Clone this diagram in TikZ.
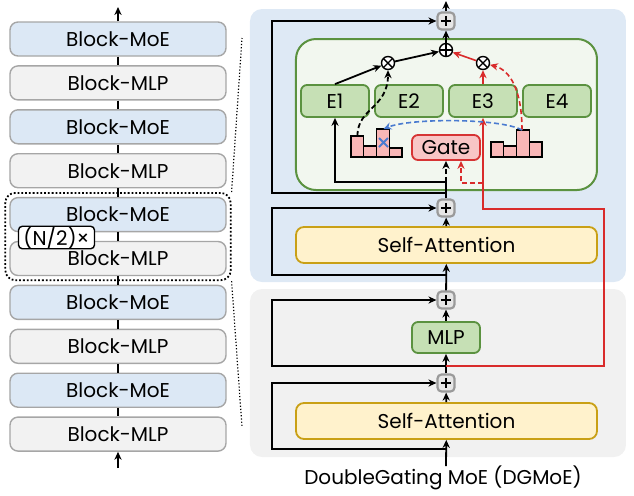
\documentclass[tikz,border=0pt]{standalone}
\usepackage{fontspec}
\setmainfont{Poppins}
\usetikzlibrary{arrows.meta,calc,fit}

\definecolor{moeblue}{HTML}{DCE8F5}
\definecolor{mlpgray}{HTML}{F2F2F2}
\definecolor{blkgray}{HTML}{A6A6A6}
\definecolor{panelblue}{HTML}{DEE9F5}
\definecolor{panelgray}{HTML}{F1F1F1}
\definecolor{boxfill}{HTML}{F2F7EF}
\definecolor{expgreen}{HTML}{5B9240}
\definecolor{expfill}{HTML}{C6E0B5}
\definecolor{gatered}{HTML}{D63434}
\definecolor{gatefill}{HTML}{F8C6C6}
\definecolor{barfill}{HTML}{F9B7B7}
\definecolor{attnfill}{HTML}{FFF2CC}
\definecolor{attnedge}{HTML}{C9A015}
\definecolor{addgray}{HTML}{9A9A9A}
\definecolor{addfill}{HTML}{E6E6E6}
\definecolor{redline}{HTML}{D92B2B}
\definecolor{blueline}{HTML}{4A7BD0}

\begin{document}
\begin{tikzpicture}[x=0.5pt, y=-0.5pt, >={Stealth[length=4pt,width=3.6pt]},
    font=\fontsize{10}{12}\selectfont,
    wire/.style={line width=0.9pt},
    redwire/.style={line width=0.8pt, draw=redline},
    blk/.style={draw=blkgray, line width=0.7pt, rounded corners=4pt,
        minimum width=108pt, minimum height=17pt, inner sep=0pt},
    moeblk/.style={blk, fill=moeblue},
    mlpblk/.style={blk, fill=mlpgray},
    expert/.style={draw=expgreen, fill=expfill, line width=0.9pt, rounded corners=3pt,
        minimum width=34pt, minimum height=16pt, inner sep=0pt},
    gatebox/.style={draw=gatered, fill=gatefill, line width=0.9pt, rounded corners=3pt,
        minimum width=34pt, minimum height=12.5pt, inner sep=0pt},
    attn/.style={draw=attnedge, fill=attnfill, line width=0.9pt, rounded corners=4pt,
        minimum width=150.5pt, minimum height=18pt, inner sep=0pt},
    bar/.style={draw, line width=0.7pt, fill=barfill},
    addbox/.style={draw=addgray, fill=addfill, line width=1.1pt, rounded corners=2pt,
        minimum size=8.5pt, inner sep=0pt,
        path picture={\draw[line width=1.2pt, black]
            ([yshift=-1.7pt]path picture bounding box.north) -- ([yshift=1.7pt]path picture bounding box.south)
            ([xshift=1.7pt]path picture bounding box.west) -- ([xshift=-1.7pt]path picture bounding box.east);}},
    sumnode/.style={circle, draw, line width=0.7pt, fill=white, minimum size=6.5pt, inner sep=0pt,
        path picture={\draw[line width=0.7pt]
            (path picture bounding box.north) -- (path picture bounding box.south)
            (path picture bounding box.west) -- (path picture bounding box.east);}},
    mulnode/.style={circle, draw, line width=0.7pt, fill=white, minimum size=6.5pt, inner sep=0pt,
        path picture={\draw[line width=0.7pt]
            (path picture bounding box.north west) -- (path picture bounding box.south east)
            (path picture bounding box.south west) -- (path picture bounding box.north east);}}
]
    \useasboundingbox (0,0) rectangle (634,495);

    % Stack of blocks
    \foreach \i in {1,3,5,7,9}
        \node[moeblk] (b\i) at (118,{39+43.9*(\i-1)}) {Block-MoE};
    \foreach \i in {2,4,6,8,10}
        \node[mlpblk] (b\i) at (118,{39+43.9*(\i-1)}) {Block-MLP};
    \foreach \i [evaluate=\i as \j using int(\i+1)] in {1,...,9}
        \draw[wire] (b\i) -- (b\j);
    \coordinate (stackin) at (118,468);
    \coordinate (stackout) at (118,7);
    \draw[wire,->] (stackin) -- (b10);
    \draw[wire,->] (b1) -- (stackout);

    % Repeated pair
    \node[draw, densely dotted, line width=0.9pt, rounded corners=5pt, inner sep=2pt, fit=(b5)(b6)] (grp) {};
    \node[draw, fill=white, line width=0.7pt, rounded corners=2pt, inner xsep=2.5pt, inner ysep=0pt,
        minimum height=8.5pt] (rep) at (56.5,237.5) {(N/2)×};
    \coordinate (zt) at (242,38);
    \coordinate (zb) at (242,427);
    \draw[densely dotted, line width=0.6pt] (grp.north east) -- (zt);
    \draw[densely dotted, line width=0.6pt] (grp.south east) -- (zb);

    % Panels
    \fill[panelblue, rounded corners=6pt] (250,9) rectangle (626,282);
    \fill[panelgray, rounded corners=6pt] (250,289) rectangle (626,457);
    \draw[draw=expgreen, fill=boxfill, line width=1pt, rounded corners=10pt] (296,39) rectangle (597,190);

    % Nodes
    \node[addbox] (addtop) at (446,21) {};
    \node[sumnode] (sum) at (446,50) {};
    \node[mulnode] (mula) at (388,63) {};
    \node[mulnode] (mulb) at (483,63) {};
    \node[expert] (e1) at (335,101) {E1};
    \node[expert] (e2) at (409,101) {E2};
    \node[expert] (e3) at (483,101) {E3};
    \node[expert] (e4) at (557,101) {E4};
    \node[gatebox] (gate) at (446,147.5) {Gate};
    \node[addbox] (adda) at (446,208) {};
    \node[attn] (attna) at (446.5,245) {Self-Attention};
    \node[addbox] (addb) at (446,300) {};
    \node[expert, minimum height=15.5pt] (mlp) at (446,337.5) {MLP};
    \node[addbox] (addc) at (446,383) {};
    \node[attn] (attnb) at (446.5,421) {Self-Attention};
    \node (title) at (443,478) {DoubleGating MoE (DGMoE)};

    % Histograms of gate scores
    \foreach \h [count=\k from 0] in {136,146,129,148}
        \draw[bar] ({351+12.75*\k},157) rectangle ({351+12.75*(\k+1)},\h);
    \foreach \h [count=\k from 0] in {142,146,130,142}
        \draw[bar] ({491+12.75*\k},157) rectangle ({491+12.75*(\k+1)},\h);
    \draw[blueline, line width=0.9pt] (379,138) -- (388,147) (379,147) -- (388,138);
    \coordinate (hl1) at (357.4,136);
    \coordinate (hl3) at (383.5,129);
    \coordinate (hr3) at (522,130);

    % Residual path
    \coordinate (in) at (446,466);
    \coordinate (skc) at (446,449);
    \coordinate (skb) at (446,366);
    \coordinate (ska) at (446,275);
    \coordinate (skm) at (446,193);
    \coordinate (split) at (446,182);
    \coordinate (out) at (446,1);
    \draw[wire,->] (in) -- (attnb);
    \draw[wire,->] (skc) -- ++(-174,0) |- (addc);
    \draw[wire,->] (attnb) -- (addc);
    \draw[wire,->] (addc) -- (mlp);
    \draw[wire,->] (skb) -- ++(-174,0) |- (addb);
    \draw[wire,->] (mlp) -- (addb);
    \draw[wire,->] (addb) -- (attna);
    \draw[wire,->] (ska) -- ++(-174,0) |- (adda);
    \draw[wire,->] (attna) -- (adda);
    \draw[wire] (adda) -- (split);
    \draw[wire,->] (skm) -- ++(-174,0) |- (addtop);
    \draw[wire,->] (split) -| (e1);
    \draw[wire,->,dash pattern=on 2.5pt off 1.5pt] (split) -- (gate);
    \draw[wire,->] (sum) -- (addtop);
    \draw[wire,->] (addtop) -- (out);
    \draw[wire,->] (e1.north) -- (mula);
    \draw[wire,->] (mula) -- (sum);
    \draw[wire,->,dash pattern=on 2.5pt off 1.5pt] (hl1) .. controls (357.4,108) and (388,108) .. (mula);

    % Second gating route
    \coordinate (rc1) at (604,366);
    \coordinate (rc2) at (604,209);
    \coordinate (rc3) at (483,209);
    \coordinate (rg) at (483,183);
    \draw[redwire,->] (skb) -- (rc1) -- (rc2) -- (rc3) -- (e3);
    \draw[redwire,->,dash pattern=on 2.5pt off 1.5pt] (rg) -| ([xshift=7.5pt]gate.south);
    \draw[redwire,->] (e3) -- (mulb);
    \draw[redwire,->] (mulb) -- (sum);
    \draw[redwire,->,dash pattern=on 2.5pt off 1.5pt] (hr3) .. controls (522,90) and (510,70) .. (mulb);
    \draw[blueline, line width=0.8pt, ->, dash pattern=on 2.5pt off 1.5pt] (hr3) .. controls (500,118) and (410,118) .. (hl3);
\end{tikzpicture}
\end{document}
